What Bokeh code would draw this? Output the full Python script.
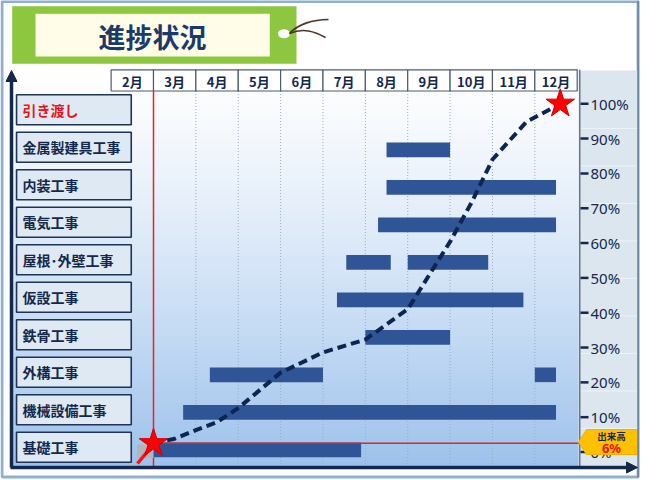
import numpy as np
from bokeh.plotting import figure
from bokeh.models import Range1d, ColumnDataSource, Arrow, NormalHead
from bokeh.core.properties import value
from bokeh.embed import file_html
from bokeh.resources import INLINE

# ---------------- data ----------------
tasks = ["基礎工事", "機械設備工事", "外構工事", "鉄骨工事", "仮設工事",
         "屋根･外壁工事", "電気工事", "内装工事", "金属製建具工事", "引き渡し"]
month_labels = ["2月", "3月", "4月", "5月", "6月", "7月", "8月", "9月", "10月", "11月", "12月"]
month_pos = [2, 3, 4, 5, 6, 7, 8, 9, 10, 11, 12]

bar_task = ["金属製建具工事", "内装工事", "電気工事", "屋根･外壁工事", "屋根･外壁工事",
            "仮設工事", "鉄骨工事", "外構工事", "外構工事", "機械設備工事", "基礎工事"]
bar_start = [8.5, 8.5, 8.3, 7.55, 9.0, 7.33, 8.0, 4.33, 12.0, 3.7, 3.0]
bar_end = [10.0, 12.5, 12.5, 8.6, 10.9, 11.73, 10.0, 7.0, 12.5, 12.5, 7.9]

prog_month = [3.0, 3.5, 4.0, 4.5, 5.0, 6.0, 7.0, 8.0, 9.0, 10.0, 10.5, 11.0, 11.8, 12.6]
prog_pct = [2.5, 3.8, 6.3, 8.6, 12.6, 22.8, 28.6, 32.3, 41.0, 60.4, 71.5, 84.0, 94.8, 100.0]

pct_ticks = [0, 10, 20, 30, 40, 50, 60, 70, 80, 90, 100]
pct_labels = [f"{t}%" for t in pct_ticks]
current_pct = 6
callout_title = "出来高"
chart_title = "進捗状況"

# ---------------- layout helpers ----------------
JP = value("Noto Sans CJK JP")
NAVY = "#14284c"
RED = "#e8141c"
W, H = 650, 480
OX, OY = 0, 0
M_PX, M3_X = 42.37, 153.0         # px per month, x of month 3
ROW0_Y, ROW_H = 446.7, 37.5       # row 0 centre, row pitch
PCT0_Y, PCT_H = 451.5, 3.482      # 0% position, px per percent


def mx(X):
    return 3 + (X - M3_X) / M_PX


p = figure(width=W, height=H,
           x_range=Range1d(mx(OX), mx(OX + W)),
           y_range=Range1d((ROW0_Y - (OY + H)) / ROW_H, (ROW0_Y - OY) / ROW_H),
           output_backend="svg", toolbar_location=None,
           x_axis_location=None, y_axis_location=None,
           min_border=0, outline_line_color=None, background_fill_color="white")
p.extra_x_ranges = {"px": Range1d(OX, OX + W)}
p.extra_y_ranges = {"pxy": Range1d(OY + H, OY),
                    "pct": Range1d((PCT0_Y - (OY + H)) / PCT_H, (PCT0_Y - OY) / PCT_H)}
p.grid.visible = False
PXY = dict(x_range_name="px", y_range_name="pxy")

# outer frame
p.quad(left=1.5, right=637.6, top=1, bottom=476.5, fill_color=None,
       line_color="#8fb0cf", line_width=3, **PXY)

# background gradient
N = 80
ys = np.linspace(69, 467, N + 1)
c0 = np.array([255, 255, 255]); c1 = np.array([157, 194, 236])
cols = []
for k in range(N):
    t = ((k + 0.5) / N) ** 1.25
    c = (c0 + (c1 - c0) * t).astype(int)
    cols.append("#%02x%02x%02x" % tuple(c))
p.quad(left=12, right=578, top=ys[:-1], bottom=ys[1:], fill_color=cols,
       line_color=cols, line_width=1, **PXY)

# right percent panel
p.quad(left=578, right=637, top=70, bottom=467, fill_color="#dce6ef", line_color=None, **PXY)
rows = list(range(len(tasks)))
p.segment(x0=580, x1=637, y0=[r + 0.5 for r in rows[:-1]], y1=[r + 0.5 for r in rows[:-1]],
          x_range_name="px", line_color="#eef3f8", line_width=1)

# month gridlines
grid_m = [m for m in month_pos if m >= 4]
p.segment(x0=grid_m, x1=grid_m, y0=90.5, y1=467, y_range_name="pxy",
          line_color="#98adc4", line_width=1, line_dash="1 2")

# month header
p.quad(left=month_pos, right=[m + 1 for m in month_pos], top=69.3, bottom=90.5,
       y_range_name="pxy", fill_color="white", line_color="#4d5b70", line_width=1.2)
p.text(x=[m + 0.5 for m in month_pos], y=80.5, text=month_labels, y_range_name="pxy",
       text_font=JP, text_font_size=value("13px"), text_font_style="bold",
       text_color=NAVY, text_align="center", text_baseline="middle")
p.segment(x0=579.3, x1=579.3, y0=69.3, y1=467, line_color="#4d5b70", line_width=1.2, **PXY)

# task label boxes
p.rect(x=73.4, y=rows, width=114.7, height=0.8, x_range_name="px",
       fill_color="#dfe9f3", line_color="#1d3456", line_width=1.6)
p.text(x=22, y=rows, text=tasks, x_range_name="px",
       text_color=[RED if t == "引き渡し" else NAVY for t in tasks],
       text_font=JP, text_font_size=value("14px"), text_font_style="bold",
       text_align="left", text_baseline="middle")

# current-start red vertical line
p.segment(x0=3, x1=3, y0=90.5, y1=467, y_range_name="pxy", line_color="#e3242b", line_width=1.5)

# gantt bars
src = ColumnDataSource(dict(y=[tasks.index(t) - 0.07 for t in bar_task],
                            left=bar_start, right=bar_end))
p.hbar(y="y", left="left", right="right", height=0.39, source=src,
       fill_color="#2f5597", line_color=None)
p.quad(left=136.5, right=153, top=444, bottom=457.5, fill_color="#b3b5b8", line_color=None, **PXY)

# current progress level line
p.segment(x0=3, x1=mx(579), y0=prog_pct[0], y1=prog_pct[0], y_range_name="pct",
          line_color="#e3242b", line_width=1.5)

# cumulative progress curve
p.line(prog_month, prog_pct, y_range_name="pct", line_color="#0d2552",
       line_width=4, line_dash="9 5")
p.segment(x0=137, y0=463, x1=152, y1=445, line_color="#ff1010", line_width=3.5, **PXY)
p.scatter(x=[prog_month[0], prog_month[-1]], y=[prog_pct[0], prog_pct[-1]], y_range_name="pct",
          marker="star", size=30, fill_color="#ff0000", line_color="#d00000", line_width=1)

# percent scale
p.segment(x0=580, x1=588, y0=pct_ticks, y1=pct_ticks, x_range_name="px", y_range_name="pct",
          line_color=NAVY, line_width=2.5)
p.text(x=590, y=pct_ticks, text=pct_labels, x_range_name="px", y_range_name="pct",
       text_font=value("Noto Sans"), text_font_size=value("15px"), text_color=NAVY,
       text_align="left", text_baseline="middle")

# callout
p.patch(x=[578, 586, 637, 637, 586], y=[441.7, 429, 429, 454, 454],
        fill_color="#ffc000", line_color="#f2b100", **PXY)
p.text(x=611, y=435.5, text=[callout_title], text_font=JP, text_font_size=value("9.5px"),
       text_font_style="bold", text_color=NAVY, text_align="center", text_baseline="middle", **PXY)
p.text(x=611, y=447.5, text=[f"{current_pct}%"], text_font=value("Noto Sans"),
       text_font_size=value("13px"), text_font_style="bold", text_color=RED,
       text_align="center", text_baseline="middle", **PXY)

# axis arrows
p.add_layout(Arrow(x_start=11, y_start=467, x_end=11, y_end=70, line_color=NAVY, line_width=3.5,
                   end=NormalHead(size=11, fill_color=NAVY, line_color=NAVY),
                   x_range_name="px", y_range_name="pxy"))
p.add_layout(Arrow(x_start=10, y_start=467, x_end=637, y_end=467, line_color=NAVY, line_width=3.5,
                   end=NormalHead(size=11, fill_color=NAVY, line_color=NAVY),
                   x_range_name="px", y_range_name="pxy"))
p.segment(x0=637.6, x1=637.6, y0=0, y1=477, line_color="#6a8199", line_width=1.5, **PXY)

# title tag
p.quad(left=11.7, right=296, top=5.7, bottom=63.3, fill_color="#8dc63f", line_color=None, **PXY)
p.quad(left=35, right=269.3, top=13.3, bottom=56, fill_color="#fffde8", line_color=None, **PXY)
p.ellipse(x=283.5, y=33.3, width=12, height=9, fill_color="white", line_color=None, **PXY)
p.bezier(x0=[289, 289], y0=[33, 33], x1=[328, 325], y1=[19, 37],
         cx0=[297, 303], cy0=[24, 27], cx1=[312, 314], cy1=[19, 31],
         line_color="#4b3526", line_width=1.6, **PXY)
p.text(x=152, y=35.5, text=[chart_title], text_font=JP, text_font_size=value("27px"),
       text_font_style="bold", text_color="#1b3a6b", text_align="center",
       text_baseline="middle", **PXY)

open("out.html", "w").write(file_html(p, INLINE))
